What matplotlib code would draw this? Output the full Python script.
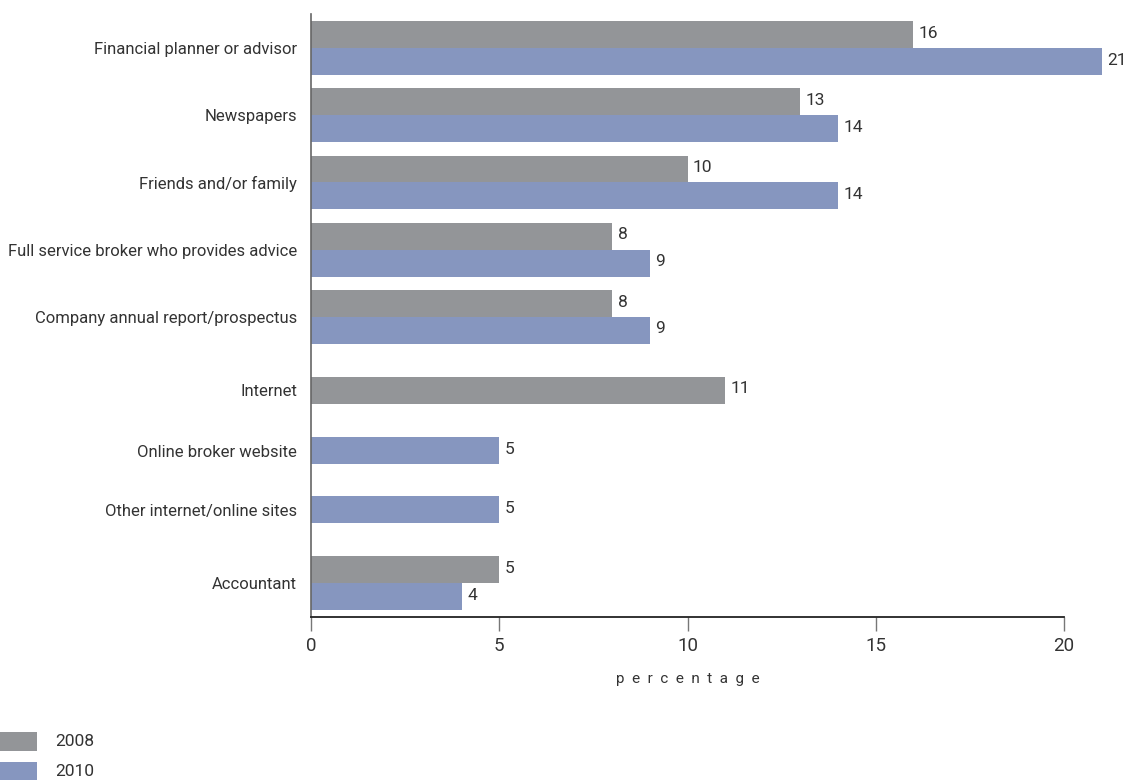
import matplotlib
matplotlib.use("Agg")
import matplotlib.pyplot as plt
from matplotlib.patches import Rectangle
import numpy as np

categories = ["Financial planner or advisor", "Newspapers", "Friends and/or family",
              "Full service broker who provides advice", "Company annual report/prospectus",
              "Internet", "Online broker website", "Other internet/online sites", "Accountant"]
values_2008 = [16, 13, 10, 8, 8, 11, None, None, 5]
values_2010 = [21, 14, 14, 9, 9, None, 5, 5, 4]
series_labels = ["2008", "2010"]
x_ticks = [0, 5, 10, 15, 20]

# layout (category centre positions in group units)
y_pos = [0, 1, 2, 3, 4, 5.09, 5.99, 6.87, 7.96]
bar_h = 0.4
col_2008 = "#939598"
col_2010 = "#8696BF"
txt_col = "#333333"
FONT = ["Roboto", "DejaVu Sans"]
plt.rcParams["font.family"] = FONT

fig = plt.figure(figsize=(11.26, 7.8), dpi=100)
ax = fig.add_axes([311/1126, 1-616.5/780, (1064-311)/1126, (616.5-14)/780])

for i, (a, b) in enumerate(zip(values_2008, values_2010)):
    yc = y_pos[i]
    if a is not None and b is not None:
        ya, yb = yc - bar_h/2, yc + bar_h/2
    else:
        ya = yb = yc
    for v, yy, c in ((a, ya, col_2008), (b, yb, col_2010)):
        if v is None:
            continue
        ax.barh(yy, v, height=bar_h, color=c, clip_on=False, zorder=2)
        ax.annotate(str(v), xy=(v, yy), xytext=(4, 1), textcoords="offset points",
                    va="center", ha="left", fontsize=12.5, color=txt_col,
                    annotation_clip=False)

ax.set_xlim(0, 20)
ax.set_ylim(7.96 + 0.496, -0.506)
ax.set_yticks(y_pos)
ax.set_yticklabels(categories, fontsize=12, color=txt_col)
ax.tick_params(axis="y", length=0, pad=10)
ax.set_xticks(x_ticks)
ax.set_xticklabels([str(t) for t in x_ticks], fontsize=13.5, color=txt_col)
ax.tick_params(axis="x", length=10, width=1, color="#777777", pad=5, direction="out")
for s in ("top", "right"):
    ax.spines[s].set_visible(False)
ax.spines["left"].set_color("#666666")
ax.spines["left"].set_linewidth(1.2)
ax.spines["bottom"].set_color("#222222")
ax.spines["bottom"].set_linewidth(1.3)
ax.set_xlabel("p  e  r  c  e  n  t  a  g  e", fontsize=11, color=txt_col, labelpad=12)

# legend
for k, (lab, c) in enumerate(zip(series_labels, [col_2008, col_2010])):
    y0 = 1 - (750.5 + k*29.5)/780
    fig.patches.append(Rectangle((0, y0), 37/1126, 18.5/780, transform=fig.transFigure,
                                 facecolor=c, edgecolor="none"))
    fig.text(55/1126, y0 + 9/780, lab, fontsize=12.5, color=txt_col, va="center", ha="left")

fig.savefig("out.png", dpi=100)
